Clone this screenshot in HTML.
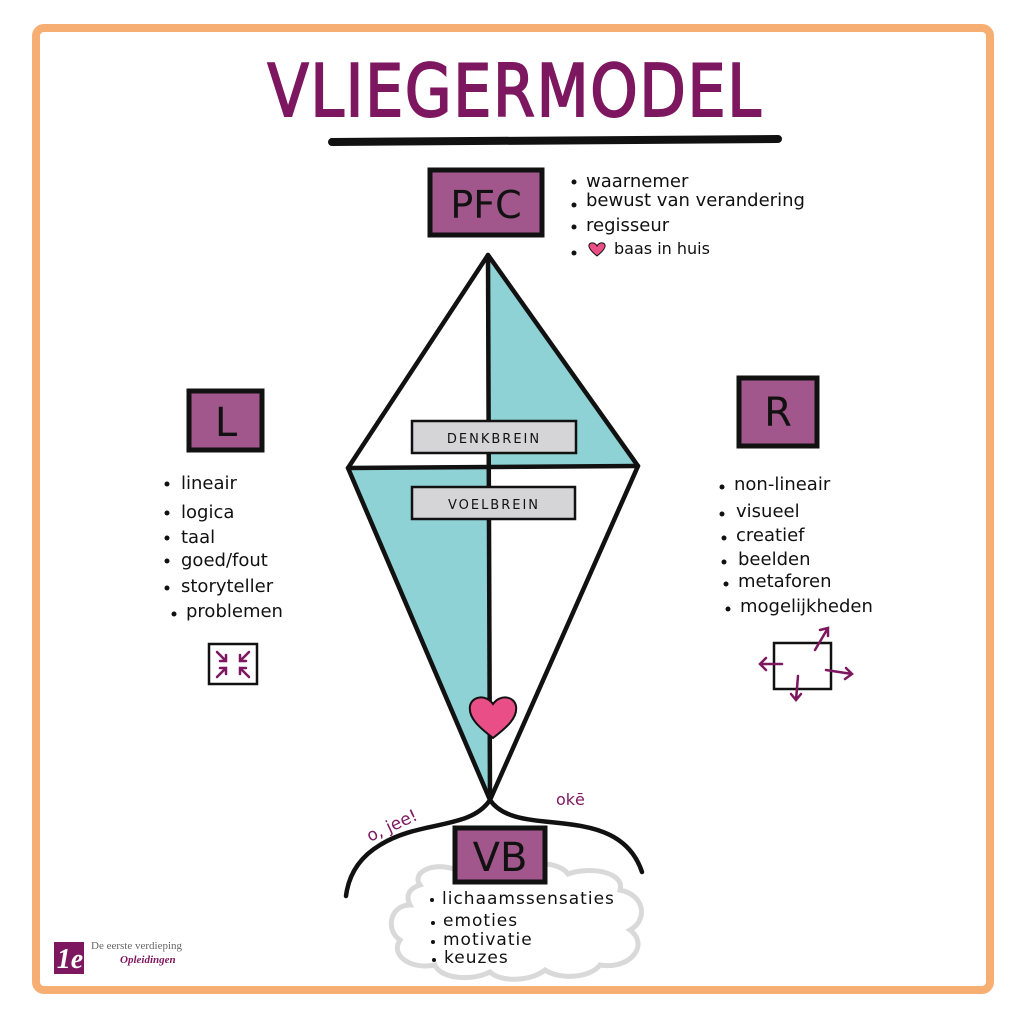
<!DOCTYPE html>
<html><head><meta charset="utf-8">
<style>
html,body{margin:0;padding:0;background:#fff;}
svg{display:block}
.t{font-family:"DejaVu Sans","Liberation Sans",sans-serif;fill:#111;}
.p{fill:#7d1760;}
</style></head>
<body>
<svg width="1024" height="1024" viewBox="0 0 1024 1024" xmlns="http://www.w3.org/2000/svg">
<rect x="0" y="0" width="1024" height="1024" fill="#fff"/>
<rect x="36" y="28" width="954" height="962" rx="8" fill="none" stroke="#f7ae72" stroke-width="8"/>

<text x="515" y="116" text-anchor="middle" font-family="'DejaVu Sans','Liberation Sans',sans-serif" font-size="72" fill="#7d1760" stroke="#7d1760" stroke-width="2" letter-spacing="2" textLength="495" lengthAdjust="spacingAndGlyphs">VLIEGERMODEL</text>
<path d="M332 142 L778 139" stroke="#111" stroke-width="8" stroke-linecap="round"/>

<polygon points="488,255 638,466 488,466" fill="#8fd2d6"/>
<polygon points="348,468 488,468 490,800" fill="#8fd2d6"/>
<g stroke="#111" stroke-width="4.5" fill="none" stroke-linejoin="round" stroke-linecap="round">
<polygon points="488,255 638,466 490,800 348,468"/>
<line x1="488" y1="255" x2="490" y2="800"/>
<line x1="348" y1="468" x2="638" y2="466"/>
<path d="M490 800 C470 830 420 820 380 845 C355 860 348 880 346 896"/>
<path d="M490 800 C510 830 570 815 610 835 C630 845 638 860 642 872"/>
</g>

<rect x="430" y="170" width="112" height="65" fill="#a2578c" stroke="#111" stroke-width="5"/>
<text x="486" y="218" text-anchor="middle" class="t" font-size="38">PFC</text>

<rect x="412" y="421" width="164" height="32" fill="#d5d5d8" stroke="#111" stroke-width="2.5"/>
<text x="494" y="443" text-anchor="middle" class="t" font-size="13" letter-spacing="2">DENKBREIN</text>
<rect x="412" y="487" width="163" height="32" fill="#d5d5d8" stroke="#111" stroke-width="2.5"/>
<text x="494" y="509" text-anchor="middle" class="t" font-size="13" letter-spacing="2">VOELBREIN</text>

<path d="M493 738 C480 728 468 718 470 706 C472 696 486 694 493 704 C500 694 514 696 516 706 C518 718 506 728 493 738 Z" fill="#e94f86" stroke="#111" stroke-width="2"/>

<g class="t" font-size="18">
<circle cx="574" cy="182" r="2.5" fill="#111"/><text x="586" y="187">waarnemer</text>
<circle cx="574" cy="205" r="2.5" fill="#111"/><text x="586" y="206">bewust van verandering</text>
<circle cx="574" cy="227" r="2.5" fill="#111"/><text x="586" y="231">regisseur</text>
<circle cx="574" cy="253" r="2.5" fill="#111"/>
<path d="M597 256 C592 252 588 248 589 245 C590 242 595 242 597 246 C599 242 604 242 605 245 C606 248 602 252 597 256Z" fill="#e94f86" stroke="#111" stroke-width="1"/>
<text x="614" y="254" font-size="16">baas in huis</text>
</g>

<rect x="189" y="391" width="73" height="59" fill="#a2578c" stroke="#111" stroke-width="5"/>
<text x="226" y="436" text-anchor="middle" class="t" font-size="40">L</text>
<g class="t" font-size="18">
<circle cx="167" cy="484" r="2.5" fill="#111"/><text x="181" y="489">lineair</text>
<circle cx="167" cy="513" r="2.5" fill="#111"/><text x="181" y="518">logica</text>
<circle cx="167" cy="538" r="2.5" fill="#111"/><text x="181" y="543">taal</text>
<circle cx="167" cy="561" r="2.5" fill="#111"/><text x="181" y="566">goed/fout</text>
<circle cx="167" cy="588" r="2.5" fill="#111"/><text x="181" y="592">storyteller</text>
<circle cx="174" cy="614" r="2.5" fill="#111"/><text x="186" y="617">problemen</text>
</g>
<rect x="209" y="644" width="48" height="40" fill="none" stroke="#111" stroke-width="2.5"/>
<g stroke="#7d1760" stroke-width="2.5" fill="none" stroke-linecap="round">
<path d="M217 652 L226 661 M226 655 L226 661 L220 661"/>
<path d="M249 652 L240 661 M240 655 L240 661 L246 661"/>
<path d="M217 677 L226 668 M226 674 L226 668 L220 668"/>
<path d="M249 677 L240 668 M240 674 L240 668 L246 668"/>
</g>

<rect x="739" y="378" width="78" height="68" fill="#a2578c" stroke="#111" stroke-width="5"/>
<text x="778" y="426" text-anchor="middle" class="t" font-size="40">R</text>
<g class="t" font-size="18">
<circle cx="722" cy="487" r="2.5" fill="#111"/><text x="734" y="490">non-lineair</text>
<circle cx="722" cy="514" r="2.5" fill="#111"/><text x="736" y="517">visueel</text>
<circle cx="724" cy="538" r="2.5" fill="#111"/><text x="736" y="541">creatief</text>
<circle cx="724" cy="562" r="2.5" fill="#111"/><text x="738" y="565">beelden</text>
<circle cx="726" cy="584" r="2.5" fill="#111"/><text x="738" y="587">metaforen</text>
<circle cx="728" cy="609" r="2.5" fill="#111"/><text x="740" y="612">mogelijkheden</text>
</g>
<rect x="774" y="643" width="57" height="46" fill="none" stroke="#111" stroke-width="2.5"/>
<g stroke="#7d1760" stroke-width="2.5" fill="none" stroke-linecap="round">
<path d="M815 650 L828 628 M820 630 L828 628 L828 636"/>
<path d="M782 664 L760 664 M766 658 L760 664 L766 670"/>
<path d="M826 670 L852 674 M846 668 L852 674 L845 679"/>
<path d="M798 676 L796 700 M791 694 L796 700 L801 694"/>
</g>

<text x="370" y="842" class="t p" font-size="17" transform="rotate(-25 370 842)">o, jee!</text>
<text x="556" y="805" class="t p" font-size="16">okē</text>

<path d="M420 885 C410 870 440 860 460 872 C470 860 500 862 510 870 C530 860 560 862 568 874 C590 866 625 872 620 890 C645 895 648 920 630 930 C650 945 630 970 600 965 C590 978 560 980 545 970 C530 982 500 982 490 972 C470 982 440 978 435 965 C410 970 390 955 400 940 C385 930 390 905 410 905 C405 895 410 888 420 885 Z" fill="#fff" stroke="#d9d9d9" stroke-width="5"/>

<rect x="455" y="828" width="90" height="54" fill="#a2578c" stroke="#111" stroke-width="5"/>
<text x="500" y="871" text-anchor="middle" class="t" font-size="40">VB</text>
<g class="t" font-size="17">
<circle cx="432" cy="900" r="2" fill="#111"/><text x="442" y="904" letter-spacing="1">lichaamssensaties</text>
<circle cx="433" cy="923" r="2" fill="#111"/><text x="443" y="926" letter-spacing="1">emoties</text>
<circle cx="433" cy="942" r="2" fill="#111"/><text x="443" y="945" letter-spacing="1">motivatie</text>
<circle cx="434" cy="960" r="2" fill="#111"/><text x="444" y="963" letter-spacing="1">keuzes</text>
</g>

<rect x="54" y="942" width="30" height="32" fill="#7d1760"/>
<text x="70" y="968" text-anchor="middle" font-family="'Liberation Serif',serif" font-size="28" font-weight="bold" fill="#fff" font-style="italic">1e</text>
<text x="91" y="949" font-family="'Liberation Serif',serif" font-size="11" fill="#666">De eerste verdieping</text>
<text x="120" y="963" font-family="'Liberation Serif',serif" font-size="11" font-weight="bold" font-style="italic" fill="#7d1760">Opleidingen</text>
</svg>
</body></html>
